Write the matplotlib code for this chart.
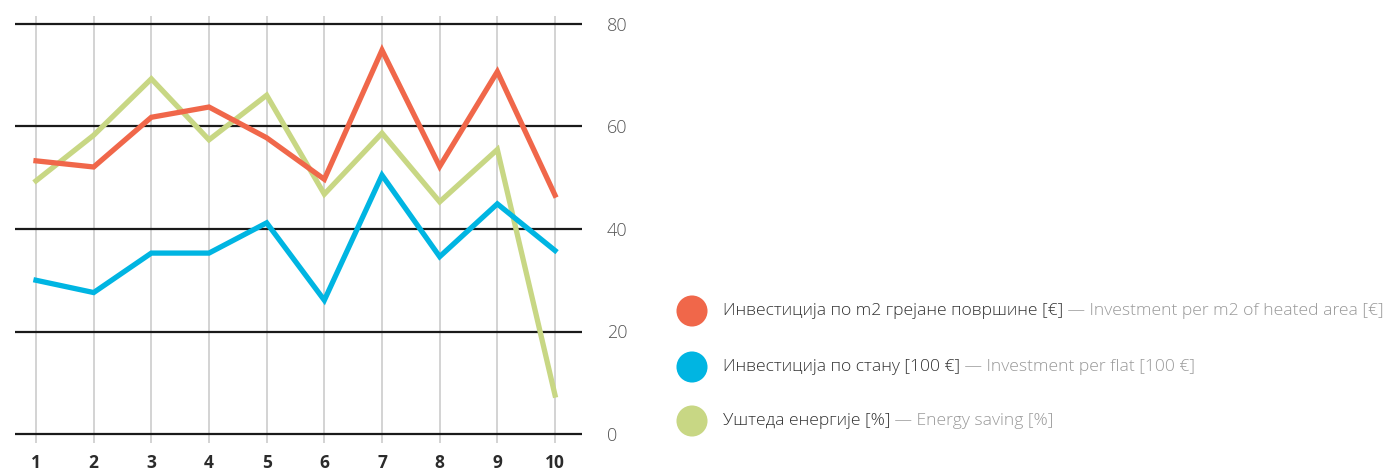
import matplotlib
matplotlib.use("Agg")
import matplotlib.pyplot as plt

# Buildings 1..10
buildings = [1, 2, 3, 4, 5, 6, 7, 8, 9, 10]
invest_m2 = [53.3, 52.1, 61.8, 63.8, 57.8, 49.7, 74.9, 52.2, 70.7, 46.6]
invest_flat = [30.0, 27.6, 35.3, 35.3, 41.2, 26.1, 50.5, 34.6, 44.9, 35.8]
energy_saving = [49.4, 58.3, 69.3, 57.4, 66.1, 46.8, 58.7, 45.3, 55.5, 7.6]

y_ticks = [0, 20, 40, 60, 80]

labels_sr = ["Инвестиција по m2 грејане површине [€]",
             "Инвестиција по стану [100 €]",
             "Уштеда енергије [%]"]
labels_en = ["Investment per m2 of heated area [€]",
             "Investment per flat [100 €]",
             "Energy saving [%]"]
colors = ["#f0674a", "#00b5e2", "#c8d784"]

plt.rcParams["font.family"] = ["Open Sans", "DejaVu Sans"]

W, H = 1392, 472
fig = plt.figure(figsize=(W / 100, H / 100), dpi=100, facecolor="white")

# plot area in pixels: x 15..582, y 16..443
ax = fig.add_axes([15 / W, 1 - 443 / H, (582 - 15) / W, (443 - 16) / H])
x0 = 1 - 21 / 57.67
x1 = 10 + 27 / 57.67
ax.set_xlim(x0, x1)
ax.set_ylim(-9 / 5.125, 418 / 5.125)

for b in buildings:
    ax.axvline(b, color="#c8c8c8", linewidth=1.1, zorder=1)
for t in y_ticks:
    ax.axhline(t, color="#1a1a1a", linewidth=1.6, zorder=2)

for series, c in zip([energy_saving, invest_m2, invest_flat], [colors[2], colors[0], colors[1]]):
    ax.plot(buildings, series, color=c, linewidth=3.8, solid_joinstyle="miter", zorder=3)

for s in ax.spines.values():
    s.set_visible(False)
ax.set_xticks(buildings)
ax.set_xticklabels([str(b) for b in buildings], fontsize=12.5, fontweight="bold", color="#2b2b2b")
ax.tick_params(axis="x", length=0, pad=8)
ax.yaxis.tick_right()
ax.set_yticks(y_ticks)
ax.set_yticklabels([str(t) for t in y_ticks], fontsize=13, color="#555555")
ax.tick_params(axis="y", length=0, pad=18)
for lbl in ax.get_yticklabels():
    lbl.set_fontweight("light")

# legend: coloured dots with bilingual text
lax = fig.add_axes([0, 0, 1, 1])
lax.set_xlim(0, W)
lax.set_ylim(H, 0)
lax.axis("off")
leg_y = [311, 367, 421]
for y, c, sr, en in zip(leg_y, colors, labels_sr, labels_en):
    lax.scatter([692], [y], s=500, color=c, edgecolors="none")
    t1 = lax.text(723, y, sr, fontsize=12.6, color="#333333", va="center", ha="left",
                  fontweight="light")
    lax.annotate(" — " + en, xy=(1, 0), xycoords=t1, va="bottom", ha="left",
                 fontsize=12.6, color="#999999", fontweight="light")

fig.savefig("out.png", dpi=100, facecolor="white")
